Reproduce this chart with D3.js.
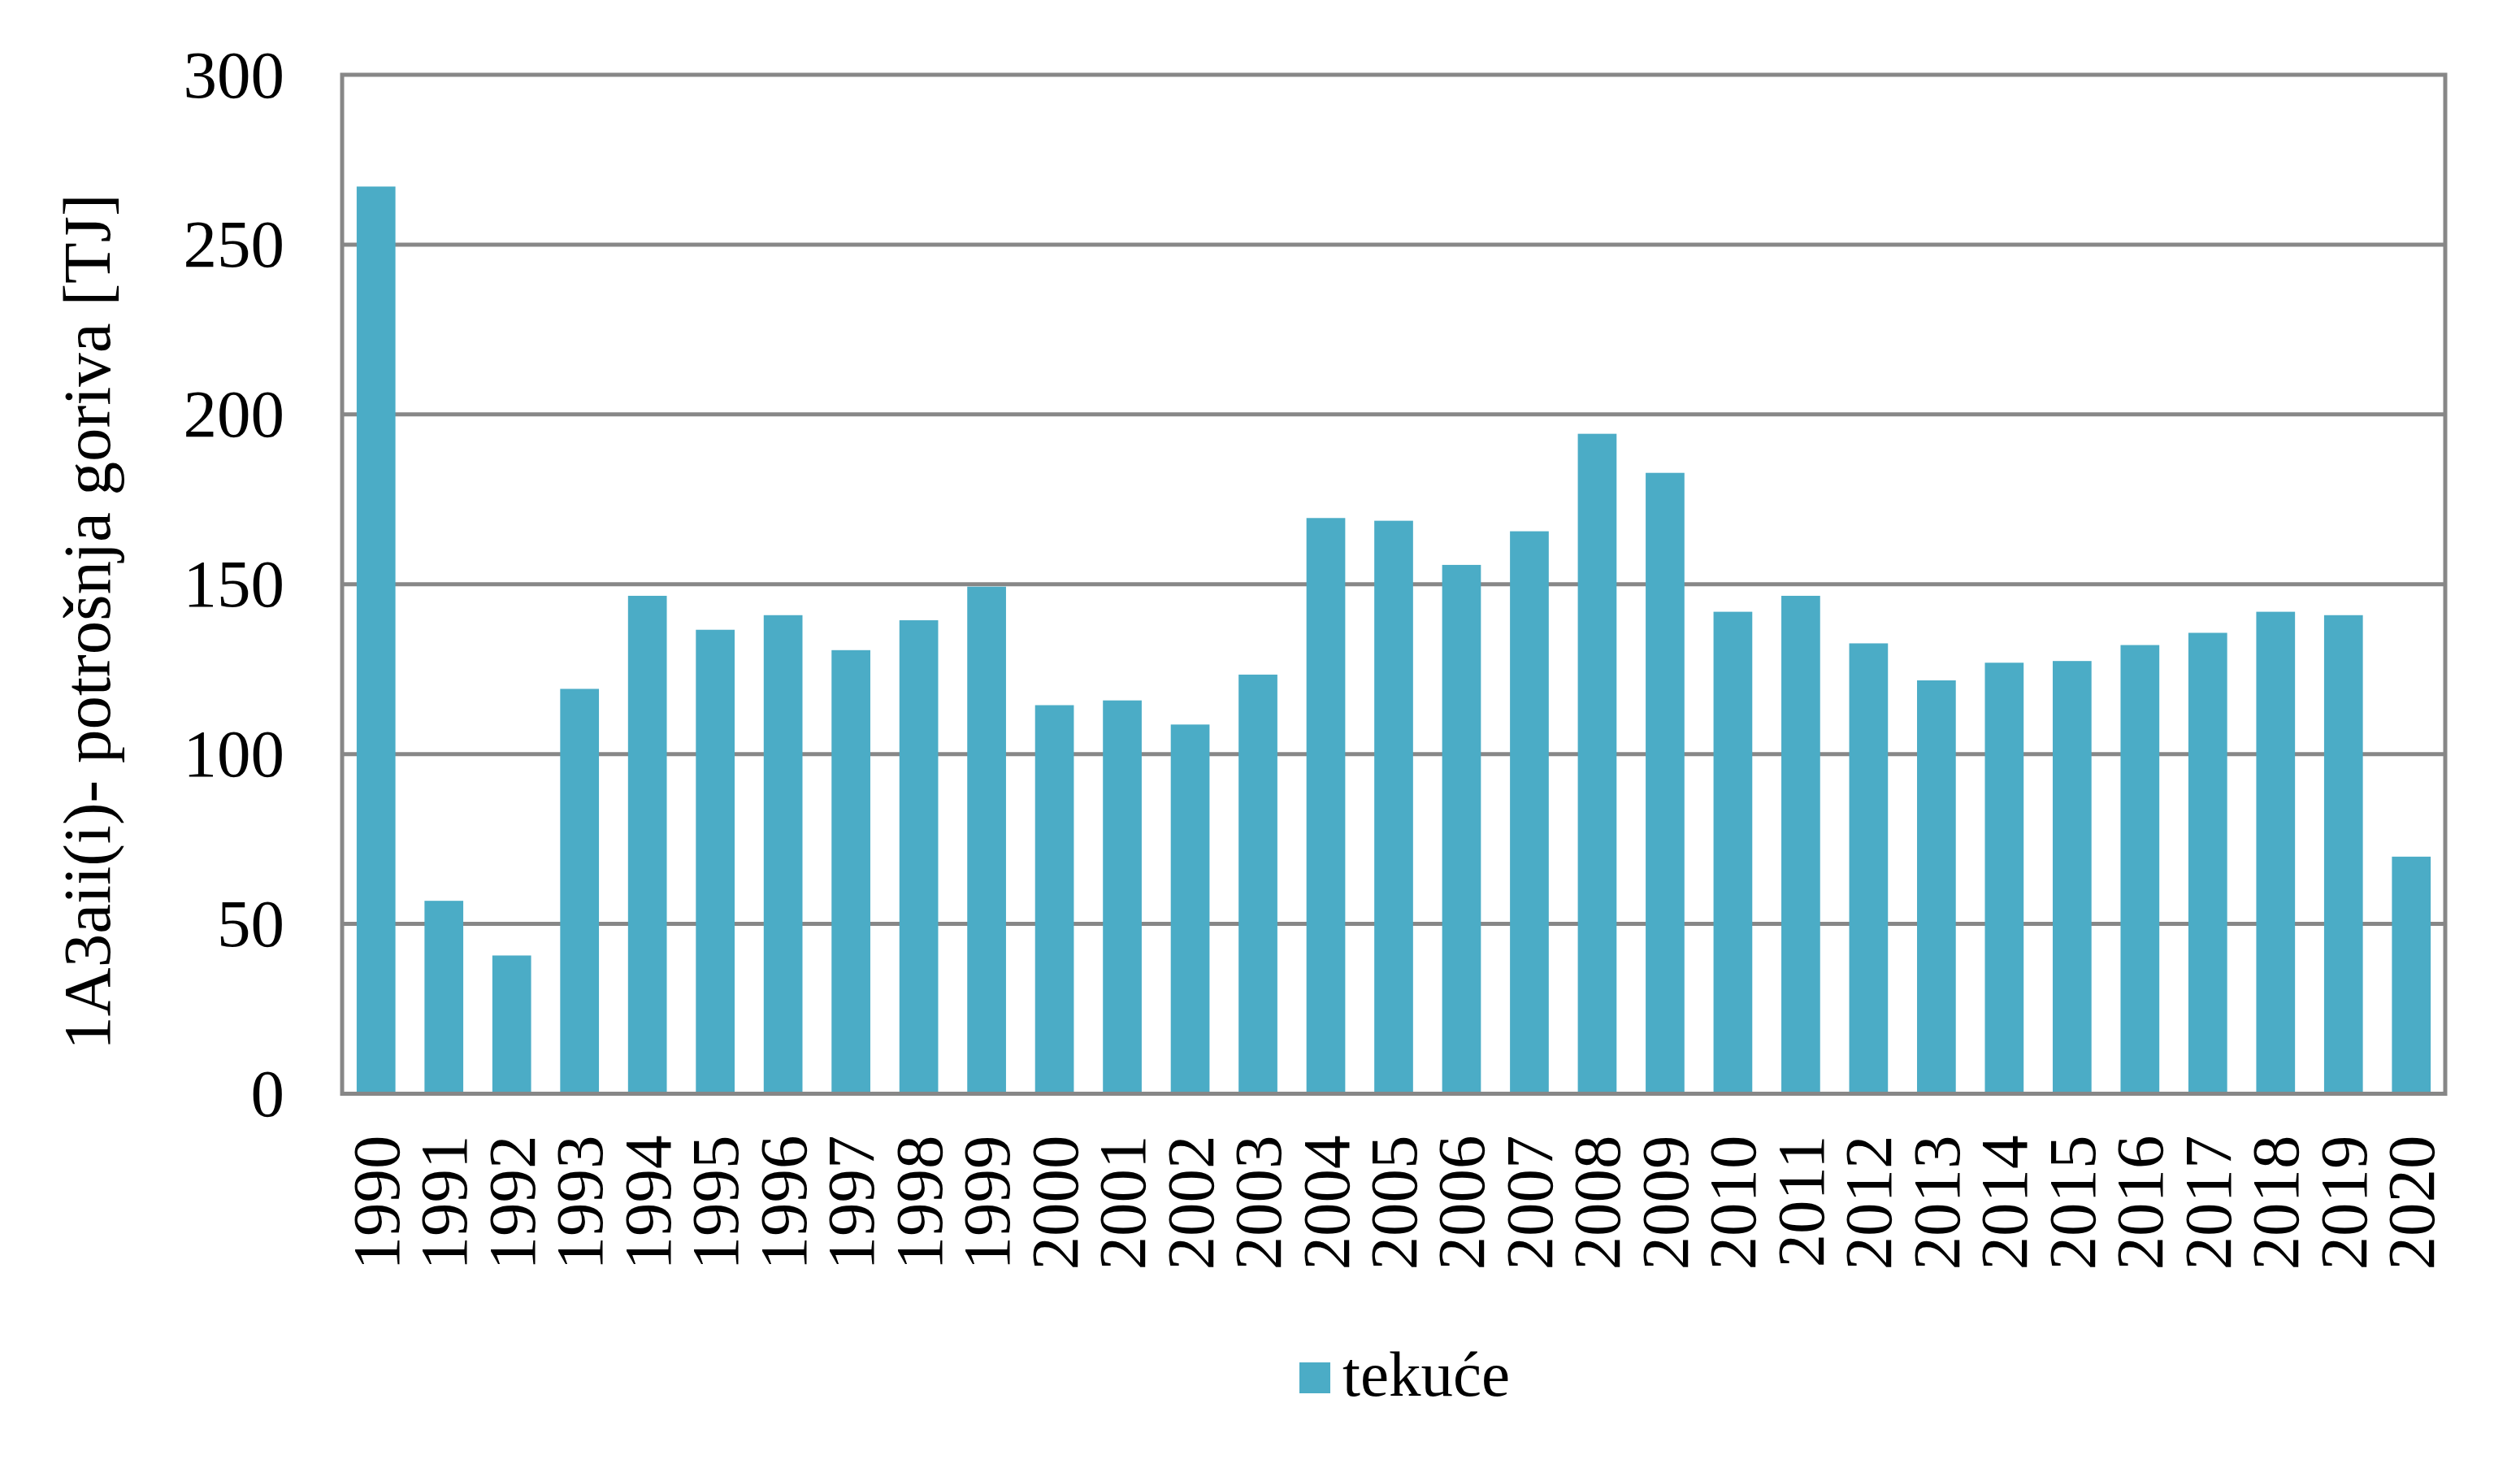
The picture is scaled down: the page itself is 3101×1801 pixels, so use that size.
<!DOCTYPE html>
<html>
<head>
<meta charset="utf-8">
<script src="https://cdn.jsdelivr.net/npm/d3@7"></script>
<style>
  html, body { margin: 0; padding: 0; background: #ffffff; }
  svg { display: block; }
</style>
</head>
<body>
<script>
// ---- data ----
const years = ["1990","1991","1992","1993","1994","1995","1996","1997","1998","1999",
               "2000","2001","2002","2003","2004","2005","2006","2007","2008","2009",
               "2010","2011","2012","2013","2014","2015","2016","2017","2018","2019","2020"];
const tekuce = [267.1, 56.8, 40.7, 119.2, 146.6, 136.6, 140.9, 130.6, 139.4, 149.3,
                114.4, 115.8, 108.7, 123.4, 169.5, 168.7, 155.7, 165.6, 194.3, 182.8,
                141.9, 146.6, 132.6, 121.7, 126.9, 127.4, 132.1, 135.7, 141.9, 140.9, 69.8];
const yTicks = [0, 50, 100, 150, 200, 250, 300];
const seriesName = "tekuće";
const yTitle = "1A3aii(i)- potrošnja goriva [TJ]";

// ---- layout ----
const W = 3101, H = 1801;
const plot = { left: 421, right: 3009, top: 92, bottom: 1345.5 };
const FONT = "'Liberation Serif', 'Times New Roman', serif";
const FS = 83;
const BAR = "#4bacc6";
const GRID = "#878787";
const LW = 5;

const svg = d3.select("body").append("svg")
  .attr("width", W).attr("height", H)
  .attr("viewBox", `0 0 ${W} ${H}`);
svg.append("rect").attr("width", W).attr("height", H).attr("fill", "#ffffff");

const x = d3.scaleBand().domain(years)
  .range([plot.left, plot.right])
  .paddingInner(0.75 / 1.75).paddingOuter(0.75 / 3.5);
const y = d3.scaleLinear().domain([0, 300]).range([plot.bottom, plot.top]);

// gridlines
svg.append("g").selectAll("line").data(yTicks.filter(t => t > 0 && t < 300)).join("line")
  .attr("x1", plot.left).attr("x2", plot.right)
  .attr("y1", d => y(d)).attr("y2", d => y(d))
  .attr("stroke", GRID).attr("stroke-width", LW);

// bars
svg.append("g").selectAll("rect").data(years).join("rect")
  .attr("x", d => x(d))
  .attr("width", x.bandwidth())
  .attr("y", (d, i) => y(tekuce[i]))
  .attr("height", (d, i) => y(0) - y(tekuce[i]))
  .attr("fill", BAR);

// frame
svg.append("rect")
  .attr("x", plot.left).attr("y", plot.top)
  .attr("width", plot.right - plot.left).attr("height", plot.bottom - plot.top)
  .attr("fill", "none").attr("stroke", GRID).attr("stroke-width", LW);

// y axis labels
const yAxis = d3.axisLeft(y).tickValues(yTicks).tickSize(0).tickPadding(0);
const gy = svg.append("g").attr("transform", `translate(${plot.left - 71},0)`).call(yAxis);
gy.select(".domain").remove();
gy.selectAll("text")
  .attr("font-family", FONT).attr("font-size", FS).attr("fill", "#000")
  .attr("x", 0).attr("dy", null).attr("y", 27)
  .attr("text-anchor", "end");

// x axis labels (rotated)
const xAxis = d3.axisBottom(x).tickSize(0).tickPadding(0);
const gx = svg.append("g").attr("transform", `translate(0,${plot.bottom})`).call(xAxis);
gx.select(".domain").remove();
gx.selectAll("text")
  .attr("font-family", FONT).attr("font-size", FS).attr("fill", "#000")
  .attr("text-anchor", "end")
  .attr("dy", null).attr("y", 0).attr("x", 0)
  .attr("transform", "translate(28,51) rotate(-90)");

// y title
svg.append("text")
  .attr("transform", `translate(135,765) rotate(-90)`)
  .attr("text-anchor", "middle")
  .attr("font-family", FONT).attr("font-size", FS).attr("fill", "#000")
  .text(yTitle);

// legend
const lg = svg.append("g");
lg.append("rect").attr("x", 1599).attr("y", 1676).attr("width", 38).attr("height", 38).attr("fill", BAR);
lg.append("text").attr("x", 1652).attr("y", 1717)
  .attr("font-family", FONT).attr("font-size", 79).attr("fill", "#000")
  .text(seriesName);
</script>
</body>
</html>
